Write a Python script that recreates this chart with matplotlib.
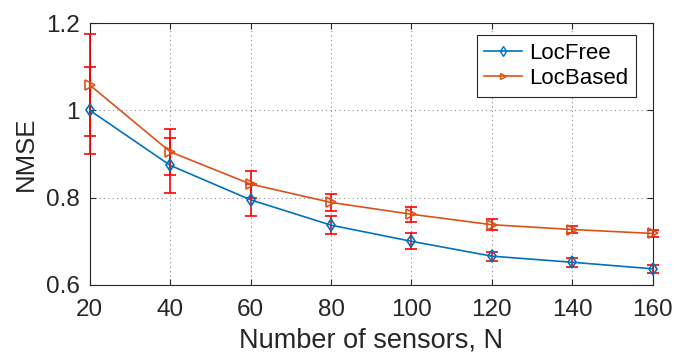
import matplotlib
matplotlib.use("Agg")
import matplotlib.pyplot as plt
from matplotlib.lines import Line2D

plt.rcParams['font.family'] = ['Liberation Sans', 'DejaVu Sans']

sensors = [20, 40, 60, 80, 100, 120, 140, 160]
locfree = [1.0, 0.874, 0.795, 0.737, 0.700, 0.666, 0.652, 0.637]
locfree_err = [0.10, 0.063, 0.036, 0.020, 0.018, 0.010, 0.010, 0.009]
locbased = [1.058, 0.905, 0.831, 0.789, 0.762, 0.738, 0.727, 0.718]
locbased_err = [0.117, 0.052, 0.031, 0.020, 0.017, 0.012, 0.009, 0.007]
xticks = [20, 40, 60, 80, 100, 120, 140, 160]
yticks = [0.6, 0.8, 1.0, 1.2]
yticklabels = ['0.6', '0.8', '1', '1.2']

fig = plt.figure(figsize=(6.75, 3.54), dpi=100)
ax = fig.add_axes([0.133, 0.195, 0.834, 0.740])

blue = '#0072BD'
orange = '#D95319'
txt = '#262626'

for y, e, c, m, ms, lab in [(locfree, locfree_err, blue, 'd', 6.5, 'LocFree'),
                             (locbased, locbased_err, orange, '>', 7, 'LocBased')]:
    cont = ax.errorbar(sensors, y, yerr=e, color=c, marker=m, mfc='none',
                       mec=c, ms=ms, mew=1.2, lw=1.2, ecolor='red', elinewidth=1.2,
                       capsize=4, capthick=1.2, label=lab, zorder=3)
    for art in cont.get_children():
        art.set_clip_on(False)

ax.set_xlim(20, 160)
ax.set_ylim(0.6, 1.2)
ax.set_xticks(xticks)
ax.set_yticks(yticks)
ax.set_yticklabels(yticklabels)
ax.tick_params(direction='in', labelsize=17.5, length=4, top=True, right=True, color=txt,
               labelcolor=txt)
ax.tick_params(axis='x', pad=10)
ax.tick_params(axis='y', pad=7)
ax.grid(True, linestyle=(0, (1, 3)), color='#8c8c8c', lw=0.8)
for s in ax.spines.values():
    s.set_color(txt)
    s.set_linewidth(0.8)
ax.set_xlabel('Number of sensors, N', fontsize=19.5, color=txt, labelpad=5)
ax.set_ylabel('NMSE', fontsize=18.5, color=txt, labelpad=6)

handles = [Line2D([], [], color=blue, marker='d', mfc='none', ms=5, lw=1.2),
           Line2D([], [], color=orange, marker='>', mfc='none', ms=5, lw=1.2)]
leg = ax.legend(handles, ['LocFree', 'LocBased'], loc='upper right', fontsize=16,
                fancybox=False, edgecolor=txt, framealpha=1,
                bbox_to_anchor=(0.97, 0.955), handlelength=1.7, borderpad=0.35,
                labelspacing=0.2, handletextpad=0.3, borderaxespad=0)
leg.get_frame().set_linewidth(0.8)

fig.savefig('out.png', dpi=100)
